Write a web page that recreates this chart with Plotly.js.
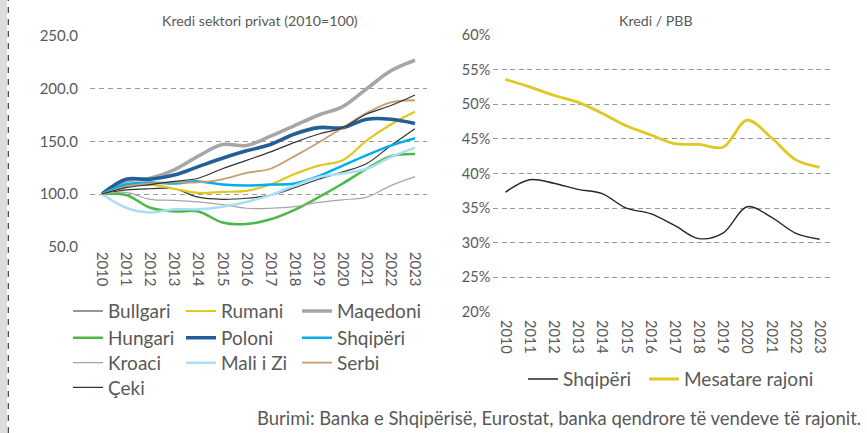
<!DOCTYPE html>
<html>
<head>
<meta charset="utf-8">
<script src="https://cdn.plot.ly/plotly-3.0.1.min.js"></script>
<style>
html,body{margin:0;padding:0;background:#fff;}
#chart{width:867px;height:433px;}
</style>
</head>
<body>
<div id="chart"></div>
<script>
// ---- Data ----
const years = ['2010','2011','2012','2013','2014','2015','2016','2017','2018','2019','2020','2021','2022','2023'];

// Left chart: Kredi sektori privat (2010=100)
const bullgari = [100, 104, 105, 105, 97, 95, 96, 99, 106, 114, 121, 129, 146, 162];
const rumani   = [100, 108, 109, 105, 101, 102, 103, 109, 119, 127, 132, 151, 166, 178];
const maqedoni = [100, 112, 115, 123, 136, 147, 146, 155, 165, 175, 183, 200, 217, 227];
const hungari  = [100, 99, 87, 83.5, 83.5, 73, 71.5, 76, 85, 97, 110, 124, 136, 138];
const poloni   = [100, 114, 114, 118, 126, 134, 141, 147, 157, 163, 163, 171, 171, 167];
const shqiperiL= [100, 109, 111, 110, 112, 109, 108, 109, 110, 117, 127, 137, 146, 153];
const kroaci   = [100, 101.5, 95, 94, 92.5, 90, 86.5, 86.5, 88, 92, 94.5, 97, 108, 116.5];
const maliZi   = [100, 87, 82.5, 85.5, 85.5, 88, 92.5, 99, 108, 116, 119.5, 124, 135, 144];
const serbi    = [100, 107, 110, 111, 111, 114, 120, 124, 136, 149, 163, 177, 187, 189];
const ceki     = [100, 106, 109, 112, 115, 124, 132, 140, 149, 157, 163, 176, 184, 194];

// Right chart: Kredi / PBB
const shqiperiR = [0.373, 0.391, 0.386, 0.377, 0.371, 0.350, 0.342, 0.325, 0.306, 0.314, 0.352, 0.337, 0.314, 0.305];
const mesatare  = [0.536, 0.525, 0.513, 0.503, 0.487, 0.469, 0.456, 0.443, 0.442, 0.438, 0.477, 0.452, 0.420, 0.409];

const leftTicks = [50, 100, 150, 200, 250];
const rightTicks = [0.20, 0.25, 0.30, 0.35, 0.40, 0.45, 0.50, 0.55, 0.60];

// ---- Styling ----
const FONT = 'Lato, "Open Sans", sans-serif';
const TXT = '#595959';
const W = 867, H = 433;
const px = v => v / W;
const py = v => 1 - v / H;

function tr(name, y, color, width, legend, xa, ya) {
  return {
    type: 'scatter', mode: 'lines', name: name, x: years, y: y,
    line: {color: color, width: width, shape: 'spline', smoothing: 1},
    legend: legend, xaxis: xa, yaxis: ya, hoverinfo: 'name+y'
  };
}

const data = [
  tr('Bullgari', bullgari, '#333333', 1.2, 'legend', 'x', 'y'),
  tr('Rumani', rumani, '#E2C71F', 2.2, 'legend2', 'x', 'y'),
  tr('Maqedoni', maqedoni, '#A6A6A6', 3.6, 'legend3', 'x', 'y'),
  tr('Hungari', hungari, '#4DB848', 2.5, 'legend4', 'x', 'y'),
  tr('Poloni', poloni, '#235E97', 3.6, 'legend5', 'x', 'y'),
  tr('Shqipëri', shqiperiL, '#00AEEF', 2.5, 'legend6', 'x', 'y'),
  tr('Kroaci', kroaci, '#A6A6A6', 1.2, 'legend7', 'x', 'y'),
  tr('Mali i Zi', maliZi, '#A9DEF5', 2.5, 'legend8', 'x', 'y'),
  tr('Serbi', serbi, '#C99C72', 1.8, 'legend9', 'x', 'y'),
  tr('Çeki', ceki, '#333333', 1.2, 'legend10', 'x', 'y'),
  tr('Shqipëri', shqiperiR, '#262626', 1.4, 'legend11', 'x2', 'y2'),
  tr('Mesatare rajoni', mesatare, '#E0C723', 2.8, 'legend12', 'x2', 'y2')
];

const tickFontL = {family: FONT, size: 15, color: TXT};
const tickFontR = {family: FONT, size: 14.5, color: TXT};
const LEG_FS = 19;
const legFont = {family: FONT, size: LEG_FS, color: TXT};
const itemOff = 5 + (1.3 * LEG_FS + 3) / 2; // offset of item centre below legend top

function leg(x, yCenter) {
  return {x: px(x), y: py(yCenter - itemOff), xanchor: 'left', yanchor: 'top', orientation: 'v',
          font: legFont, bgcolor: 'rgba(0,0,0,0)', borderwidth: 0, traceorder: 'normal'};
}

const colX = [68, 181, 297];
const rowY = [311, 337.7, 362.7, 387.3];

const layout = {
  width: W, height: H,
  margin: {l: 0, r: 0, t: 0, b: 0, pad: 0},
  paper_bgcolor: '#ffffff', plot_bgcolor: '#ffffff',
  showlegend: true,
  xaxis: {
    domain: [px(90), px(427)], anchor: 'y', type: 'category', range: [-0.5, 13.5],
    showgrid: false, zeroline: false, showline: false, ticks: '',
    tickangle: 90, tickfont: tickFontL, ticklabelstandoff: 4, fixedrange: true
  },
  yaxis: {
    domain: [py(246.7), py(36)], anchor: 'x', range: [50, 250],
    tickvals: leftTicks, tickformat: '.1f', tickfont: tickFontL,
    showgrid: true, gridcolor: '#9a9a9a', gridwidth: 1, griddash: '5px,4px',
    zeroline: false, showline: false, ticks: '', ticklabelstandoff: 11, fixedrange: true
  },
  xaxis2: {
    domain: [px(493.3), px(831.7)], anchor: 'y2', type: 'category', range: [-0.5, 13.5],
    showgrid: false, zeroline: false, showline: false, ticks: '',
    tickangle: 90, tickfont: tickFontR, ticklabelstandoff: 7, fixedrange: true
  },
  yaxis2: {
    domain: [py(312), py(35)], anchor: 'x2', range: [0.2, 0.6],
    tickvals: rightTicks, tickformat: '.0%', tickfont: tickFontR,
    showgrid: true, gridcolor: '#9a9a9a', gridwidth: 1, griddash: '5px,3.5px',
    zeroline: false, showline: false, ticks: '', ticklabelstandoff: 2, fixedrange: true
  },
  legend:   leg(colX[0], rowY[0]),
  legend2:  leg(colX[1], rowY[0]),
  legend3:  leg(colX[2], rowY[0]),
  legend4:  leg(colX[0], rowY[1]),
  legend5:  leg(colX[1], rowY[1]),
  legend6:  leg(colX[2], rowY[1]),
  legend7:  leg(colX[0], rowY[2]),
  legend8:  leg(colX[1], rowY[2]),
  legend9:  leg(colX[2], rowY[2]),
  legend10: leg(colX[0], rowY[3]),
  legend11: leg(523, 379),
  legend12: leg(644, 379),
  annotations: [
    {text: 'Kredi sektori privat (2010=100)', xref: 'paper', yref: 'paper',
     x: px(260), y: py(21), xanchor: 'center', yanchor: 'middle', showarrow: false,
     font: {family: FONT, size: 14.2, color: TXT}},
    {text: 'Kredi / PBB', xref: 'paper', yref: 'paper',
     x: px(656), y: py(21), xanchor: 'center', yanchor: 'middle', showarrow: false,
     font: {family: FONT, size: 14.2, color: TXT}},
    {text: 'Burimi: Banka e Shqipërisë, Eurostat, banka qendrore të vendeve të rajonit.',
     xref: 'paper', yref: 'paper', x: px(863), y: py(417.5), xanchor: 'right', yanchor: 'middle',
     showarrow: false, font: {family: FONT, size: 18.5, color: TXT}}
  ],
  shapes: [
    {type: 'rect', xref: 'paper', yref: 'paper', x0: 0, x1: px(7), y0: 0, y1: 1,
     fillcolor: '#dcdcdc', line: {width: 0}, layer: 'below'},
    {type: 'line', xref: 'paper', yref: 'paper', x0: px(8.3), x1: px(8.3), y0: 0, y1: 1,
     line: {color: '#444444', width: 1.3, dash: '6px,6px'}}
  ]
};

Plotly.newPlot('chart', data, layout, {displayModeBar: false, staticPlot: true});
</script>
</body>
</html>
